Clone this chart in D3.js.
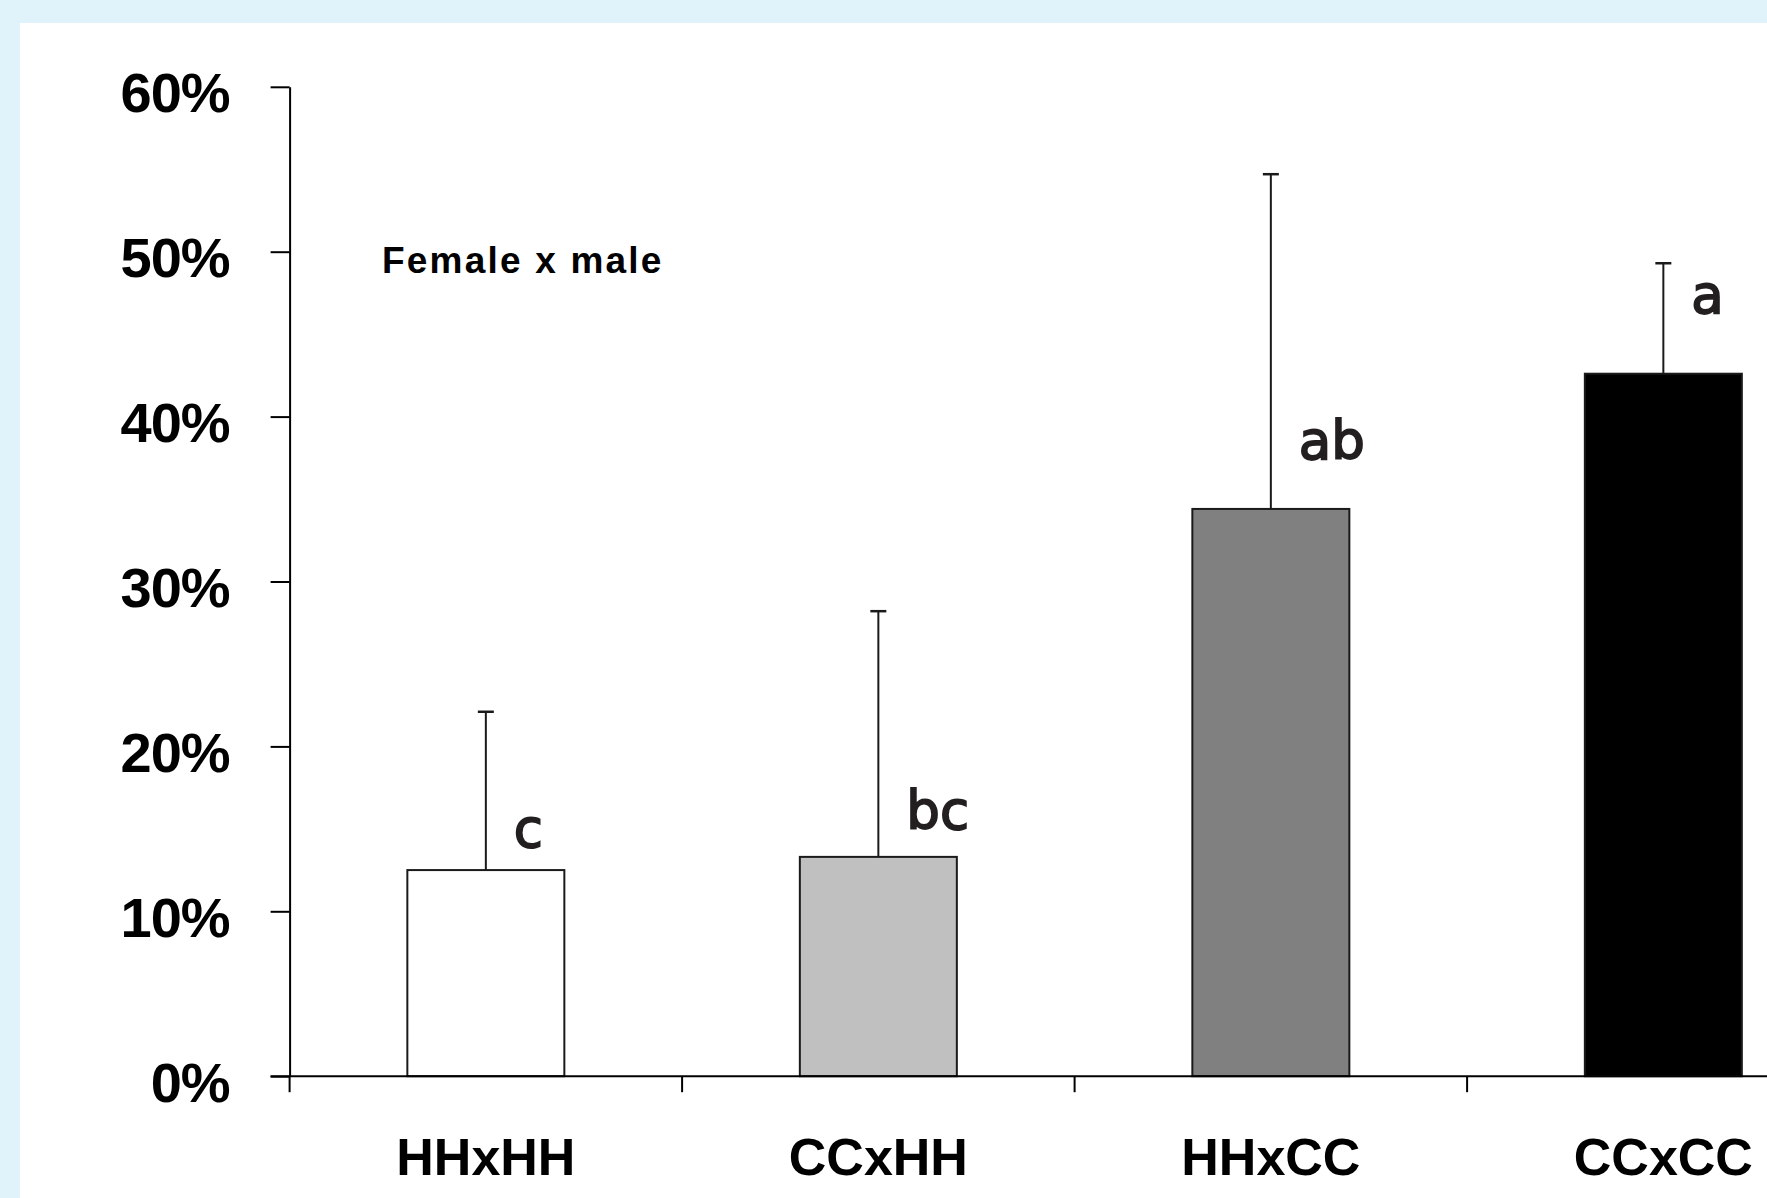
<!DOCTYPE html>
<html>
<head>
<meta charset="utf-8">
<script src="https://cdn.jsdelivr.net/npm/d3@7"></script>
<style>
  html, body { margin: 0; padding: 0; background: #e0f2fa; overflow: hidden; }
  svg { display: block; }
</style>
</head>
<body>
<svg id="chart" width="1767" height="1198"></svg>
<script>
// data
var categories = ["HHxHH", "CCxHH", "HHxCC", "CCxCC"];
var means = [12.5, 13.3, 34.4, 42.6];
var upper = [22.1, 28.2, 54.7, 49.3];
var letters = ["c", "bc", "ab", "a"];
var letterAt = [13.9, 15.0, 37.4, 46.3];
var fills = ["#ffffff", "#c0c0c0", "#808080", "#000000"];
var yTicks = [0, 10, 20, 30, 40, 50, 60];

var svg = d3.select("#chart"),
    width = +svg.attr("width"),
    height = +svg.attr("height");

// white panel inside the light blue frame
svg.append("rect")
    .attr("x", 20).attr("y", 23)
    .attr("width", width - 20).attr("height", height - 23)
    .attr("fill", "#ffffff");

var x0 = 289.6,
    step = 392.5,
    y = d3.scaleLinear().domain([0, 60]).range([1076.2, 86.8]),
    x = d3.scaleBand()
        .domain(categories)
        .range([x0, x0 + step * categories.length])
        .paddingInner(0.6)
        .paddingOuter(0.3);

var g = svg.append("g");

// bars
g.selectAll("rect.bar")
    .data(categories)
    .enter().append("rect")
    .attr("class", "bar")
    .attr("x", function (d) { return x(d); })
    .attr("y", function (d, i) { return y(means[i]); })
    .attr("width", x.bandwidth())
    .attr("height", function (d, i) { return y(0) - y(means[i]); })
    .attr("fill", function (d, i) { return fills[i]; })
    .attr("stroke", "#1a1a1a")
    .attr("stroke-width", 2);

// error bars (upper only)
var cx = function (d) { return x(d) + x.bandwidth() / 2; };
g.selectAll("line.err")
    .data(categories)
    .enter().append("line")
    .attr("x1", cx).attr("x2", cx)
    .attr("y1", function (d, i) { return y(means[i]); })
    .attr("y2", function (d, i) { return y(upper[i]); })
    .attr("stroke", "#1a1a1a")
    .attr("stroke-width", 2);
g.selectAll("line.cap")
    .data(categories)
    .enter().append("line")
    .attr("x1", function (d) { return cx(d) - 8; })
    .attr("x2", function (d) { return cx(d) + 8; })
    .attr("y1", function (d, i) { return y(upper[i]); })
    .attr("y2", function (d, i) { return y(upper[i]); })
    .attr("stroke", "#1a1a1a")
    .attr("stroke-width", 2.5);

// significance letters
g.selectAll("text.sig")
    .data(categories)
    .enter().append("text")
    .attr("x", function (d) { return cx(d) + 28; })
    .attr("y", function (d, i) { return y(letterAt[i]); })
    .attr("font-family", "'DejaVu Sans', sans-serif")
    .attr("font-size", 53)
    .attr("fill", "#231f20")
    .attr("stroke", "#231f20")
    .attr("stroke-width", 1.8)
    .text(function (d, i) { return letters[i]; });

// y axis
var yAxis = svg.append("g")
    .attr("transform", "translate(" + x0 + ",0)")
    .call(d3.axisLeft(y)
        .tickValues(yTicks)
        .tickSize(19)
        .tickSizeOuter(0)
        .tickPadding(41)
        .tickFormat(function (d) { return d + "%"; }));
yAxis.select(".domain").attr("stroke", "#000").attr("stroke-width", 2);
yAxis.selectAll(".tick line").attr("stroke", "#000").attr("stroke-width", 2);
yAxis.selectAll(".tick text")
    .attr("dy", 25)
    .attr("font-family", "'Liberation Sans', Arial, sans-serif")
    .attr("font-weight", "bold")
    .attr("font-size", 56)
    .attr("letter-spacing", -1)
    .attr("fill", "#000");

// x axis line and category labels
var xAxis = svg.append("g")
    .attr("transform", "translate(0," + y(0) + ")")
    .call(d3.axisBottom(x).tickSize(0).tickSizeOuter(0).tickPadding(62));
xAxis.select(".domain").remove();
xAxis.selectAll(".tick text")
    .attr("font-family", "'Liberation Sans', Arial, sans-serif")
    .attr("font-weight", "bold")
    .attr("font-size", 52)
    .attr("fill", "#000");

svg.append("line")
    .attr("x1", x0 - 19).attr("x2", width)
    .attr("y1", y(0)).attr("y2", y(0))
    .attr("stroke", "#000").attr("stroke-width", 2);

// category boundary ticks under the axis
var bounds = d3.range(categories.length).map(function (i) { return x0 + i * step; });
svg.selectAll("line.bound")
    .data(bounds)
    .enter().append("line")
    .attr("x1", function (d) { return d; }).attr("x2", function (d) { return d; })
    .attr("y1", y(0)).attr("y2", y(0) + 16)
    .attr("stroke", "#000").attr("stroke-width", 2);

// in-plot note
svg.append("text")
    .attr("x", 382)
    .attr("y", 273)
    .attr("font-family", "'Liberation Sans', Arial, sans-serif")
    .attr("font-weight", "bold")
    .attr("font-size", 37)
    .attr("letter-spacing", 2.2)
    .attr("fill", "#000")
    .text("Female x male");
</script>
</body>
</html>
